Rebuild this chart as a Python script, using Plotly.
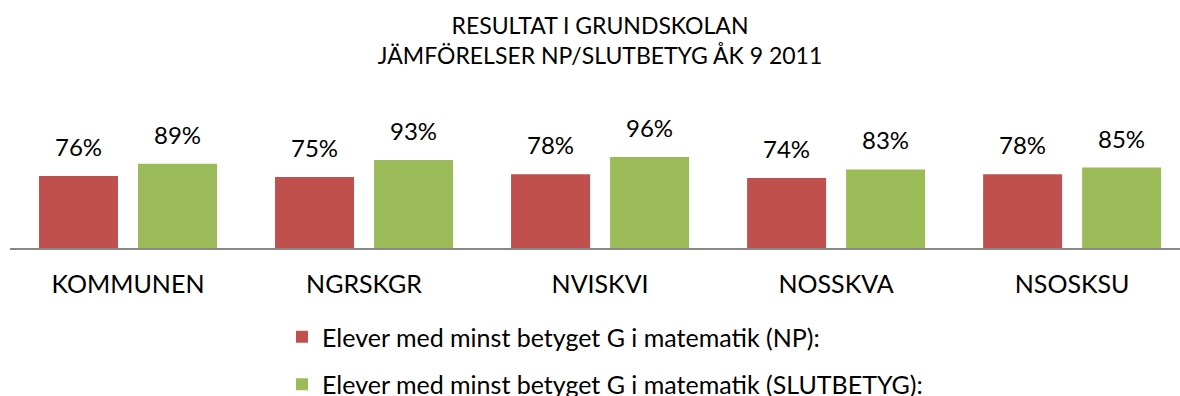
import plotly.graph_objects as go

# Data
categories = ["KOMMUNEN", "NGRSKGR", "NVISKVI", "NOSSKVA", "NSOSKSU"]
np_share = [0.76, 0.75, 0.78, 0.74, 0.78]
slutbetyg_share = [0.89, 0.93, 0.96, 0.83, 0.85]
series_names = [
    "Elever med minst betyget G i matematik (NP):",
    "Elever med minst betyget G i matematik (SLUTBETYG):",
]
series_colors = ["#C0504D", "#9BBB59"]

FONT = "Lato"
W, H = 1180, 396
BARGAP = 0.161
BARGROUPGAP = 0.202

fig = go.Figure()
for name, vals, col in zip(series_names, [np_share, slutbetyg_share], series_colors):
    fig.add_trace(go.Bar(
        name=name, x=list(range(len(categories))), y=vals,
        marker=dict(color=col, line=dict(width=0)),
        legendgroup=name,
    ))

# value labels above each bar
slot = (1 - BARGAP) / 2
annotations = []
for k, vals in enumerate([np_share, slutbetyg_share]):
    off = (k - 0.5) * slot
    for i, v in enumerate(vals):
        annotations.append(dict(
            x=i + off, y=v, xref="x", yref="y",
            text=f"{round(v * 100)}%", showarrow=False,
            yanchor="bottom", yshift=13,
            font=dict(family=FONT, size=24, color="#000000"),
        ))

fig.update_layout(
    width=W, height=H,
    margin=dict(l=10, r=0, t=106, b=148, pad=0),
    paper_bgcolor="white", plot_bgcolor="white",
    barmode="group", bargap=BARGAP, bargroupgap=BARGROUPGAP,
    title=dict(
        text="RESULTAT I GRUNDSKOLAN<br>JÄMFÖRELSER NP/SLUTBETYG ÅK 9 2011",
        x=600 / W, xref="container", xanchor="center",
        y=1 - 34 / H, yref="container", yanchor="top",
        font=dict(family=FONT, size=23, color="#000000"),
    ),
    xaxis=dict(
        tickmode="array", tickvals=list(range(len(categories))), ticktext=categories,
        range=[-0.5, 4.457], showgrid=False, zeroline=False,
        showline=True, linecolor="#888888", linewidth=1.5,
        ticks="", ticklabelstandoff=13,
        tickfont=dict(family=FONT, size=25, color="#000000"),
    ),
    yaxis=dict(range=[0, 1.5], visible=False, showgrid=False, zeroline=False),
    showlegend=True,
    legend=dict(
        orientation="v", x=(282 - 10) / 1170, xanchor="left",
        y=1 - 314 / H, yref="container", yanchor="top",
        tracegroupgap=12,
        font=dict(family=FONT, size=25, color="#000000"),
        bgcolor="rgba(0,0,0,0)",
    ),
    annotations=annotations,
)

fig.write_html("out.html")
